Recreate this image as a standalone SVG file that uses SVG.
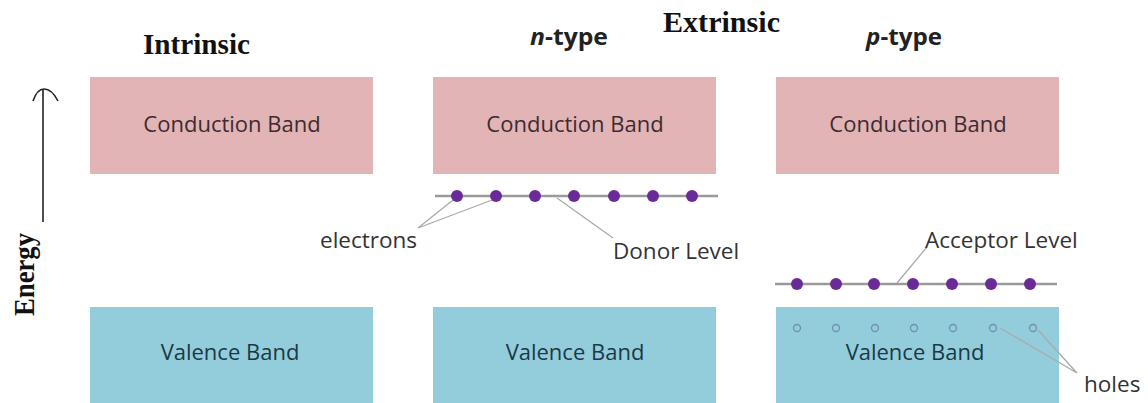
<svg xmlns="http://www.w3.org/2000/svg" width="1148" height="403" viewBox="0 0 1148 403">
<style>
.cb{fill:#e2b4b6}
.vb{fill:#93cddc}
.bl{font-family:"Open Sans","Liberation Sans",sans-serif;font-size:22px;text-anchor:middle}
.cbt{fill:#3d2b30}
.vbt{fill:#1b3944}
.ttl{font-family:"Liberation Serif",serif;font-weight:bold;fill:#111}
.sub{font-family:"Open Sans","Liberation Sans",sans-serif;font-weight:bold;font-size:23px;fill:#222}
.lbl{font-family:"Open Sans","Liberation Sans",sans-serif;font-size:22.5px;fill:#333}
.lvl{stroke:#9a9a9a;stroke-width:2.5}
.lead{stroke:#aaa;stroke-width:1.3;fill:none}
.e{fill:#6a2b98}
.h{fill:none;stroke:#6f8fb0;stroke-width:1.3}
</style>
<rect width="1148" height="403" fill="#fff"/>
<g id="titles">
<text class="ttl" x="143" y="54" font-size="30" textLength="107" lengthAdjust="spacingAndGlyphs">Intrinsic</text>
<text class="ttl" x="663" y="32" font-size="29" textLength="117" lengthAdjust="spacingAndGlyphs">Extrinsic</text>
<text class="sub" x="530" y="45" textLength="78" lengthAdjust="spacingAndGlyphs"><tspan font-style="italic">n</tspan>-type</text>
<text class="sub" x="866" y="45" textLength="76" lengthAdjust="spacingAndGlyphs"><tspan font-style="italic">p</tspan>-type</text>
</g>
<g id="energy-axis">
<line x1="43" y1="222" x2="43" y2="90" stroke="#222" stroke-width="1.6"/>
<path d="M33 101 Q37 89 44 89 Q52 89 58 101" fill="none" stroke="#222" stroke-width="1.6"/>
<text class="ttl" transform="translate(34 316) rotate(-90)" font-size="29" textLength="83" lengthAdjust="spacingAndGlyphs">Energy</text>
</g>
<g id="intrinsic-cb"><rect class="cb" x="90" y="77" width="283" height="97"/><text class="bl cbt" x="232" y="132">Conduction Band</text></g>
<g id="ntype-cb"><rect class="cb" x="433" y="77" width="283" height="97"/><text class="bl cbt" x="575" y="132">Conduction Band</text></g>
<g id="ptype-cb"><rect class="cb" x="776" y="77" width="283" height="97"/><text class="bl cbt" x="918" y="132">Conduction Band</text></g>
<g id="intrinsic-vb"><rect class="vb" x="90" y="307" width="283" height="96"/><text class="bl vbt" x="230" y="360">Valence Band</text></g>
<g id="ntype-vb"><rect class="vb" x="433" y="307" width="283" height="96"/><text class="bl vbt" x="575" y="360">Valence Band</text></g>
<g id="ptype-vb"><rect class="vb" x="776" y="307" width="283" height="96"/><text class="bl vbt" x="915" y="360">Valence Band</text></g>
<g id="donor-level">
<line class="lvl" x1="435" y1="196" x2="718" y2="196"/>
<circle class="e" cx="457" cy="196" r="6"/><circle class="e" cx="496" cy="196" r="6"/><circle class="e" cx="535" cy="196" r="6"/><circle class="e" cx="574" cy="196" r="6"/><circle class="e" cx="614" cy="196" r="6"/><circle class="e" cx="653" cy="196" r="6"/><circle class="e" cx="692" cy="196" r="6"/>
</g>
<g id="acceptor-level">
<line class="lvl" x1="775" y1="284" x2="1057" y2="284"/>
<circle class="e" cx="797" cy="284" r="6"/><circle class="e" cx="836" cy="284" r="6"/><circle class="e" cx="874" cy="284" r="6"/><circle class="e" cx="913" cy="284" r="6"/><circle class="e" cx="952" cy="284" r="6"/><circle class="e" cx="991" cy="284" r="6"/><circle class="e" cx="1030" cy="284" r="6"/>
</g>
<g id="holes">
<circle class="h" cx="797" cy="328" r="3.5"/><circle class="h" cx="836" cy="328" r="3.5"/><circle class="h" cx="875" cy="328" r="3.5"/><circle class="h" cx="914" cy="328" r="3.5"/><circle class="h" cx="953" cy="328" r="3.5"/><circle class="h" cx="993" cy="328" r="3.5"/><circle class="h" cx="1033" cy="328" r="3.5"/>
</g>
<g id="connectors">
<path class="lead" d="M418 228 L453 200 M418 228 L492 200"/>
<path class="lead" d="M557 198 L613 238"/>
<path class="lead" d="M927 247 L897 283"/>
<path class="lead" d="M1077 373 L1000 328 M1077 373 L1038 330"/>
</g>
<g id="labels">
<text class="lbl" x="320" y="248">electrons</text>
<text class="lbl" x="613" y="259">Donor Level</text>
<text class="lbl" x="925" y="248">Acceptor Level</text>
<text class="lbl" x="1084" y="392">holes</text>
</g>
</svg>
